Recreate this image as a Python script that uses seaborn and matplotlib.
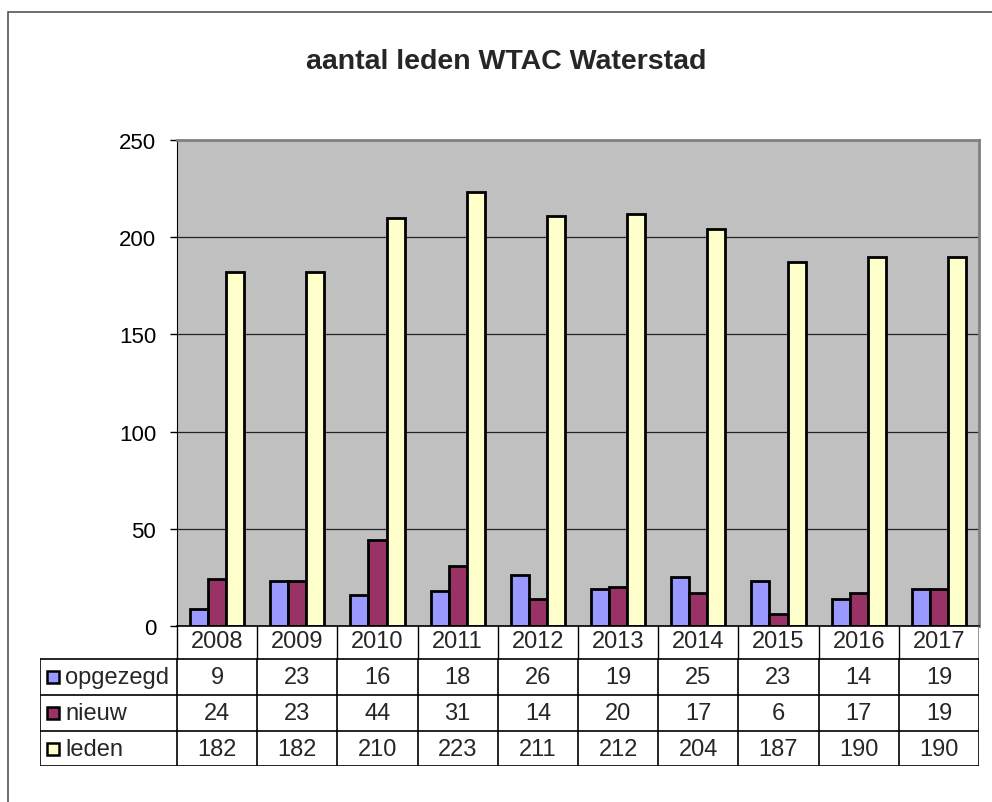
import pandas as pd
import matplotlib.pyplot as plt
import seaborn as sns
from matplotlib.patches import Rectangle

# Data
years = ["2008", "2009", "2010", "2011", "2012", "2013", "2014", "2015", "2016", "2017"]
opgezegd = [9, 23, 16, 18, 26, 19, 25, 23, 14, 19]
nieuw = [24, 23, 44, 31, 14, 20, 17, 6, 17, 19]
leden = [182, 182, 210, 223, 211, 212, 204, 187, 190, 190]
series_names = ["opgezegd", "nieuw", "leden"]
series_colors = ["#9999FF", "#993366", "#FFFFCC"]

sns.set_style("ticks")
plt.rcParams["font.family"] = ["Liberation Sans", "DejaVu Sans"]

W, H = 992, 803

# Long format table for seaborn
rows = []
for name, values in zip(series_names, [opgezegd, nieuw, leden]):
    for year, v in zip(years, values):
        rows.append({"jaar": year, "reeks": name, "aantal": v})
df = pd.DataFrame(rows)

fig = plt.figure(figsize=(W / 100, H / 100), dpi=100)

# Outer chart border (Excel style)
fig.patches.append(Rectangle((8 / W, -0.05), 1.1, 1 - 13 / H + 0.05, transform=fig.transFigure,
                             fill=False, edgecolor="#555555", linewidth=1.2))

# Plot area
left, right, top, bottom = 177, 979, 141, 627
ax = fig.add_axes([left / W, 1 - bottom / H, (right - left) / W, (bottom - top) / H])
ax.set_facecolor("#C0C0C0")
sns.barplot(data=df, x="jaar", y="aantal", hue="reeks", order=years, hue_order=series_names,
            palette=series_colors, width=0.675, edgecolor="black", linewidth=2,
            saturation=1, legend=False, ax=ax)
ax.set_xlim(-0.5, len(years) - 0.5)
ax.set_ylim(0, 250)
ax.set_yticks(range(0, 251, 50))
ax.yaxis.grid(True, color="#222222", linewidth=0.9)
ax.set_axisbelow(True)
ax.set_xticks([])
ax.set_xlabel("")
ax.set_ylabel("")
ax.tick_params(axis="y", length=5, width=1, pad=10, labelsize=16, colors="black")
for side in ["top", "right"]:
    ax.spines[side].set_color("#808080")
    ax.spines[side].set_linewidth(2)
ax.spines["left"].set_color("black")
ax.spines["bottom"].set_color("black")
ax.spines["bottom"].set_linewidth(1.2)

fig.text(506 / W, 1 - 62 / H, "aantal leden WTAC Waterstad", ha="center", va="center",
         fontsize=20.5, fontweight="bold")

# Data table below the plot area, sharing the category positions
tab_left, tab_bottom = 40, 767
unit = (right - left) / len(years)
tab = fig.add_axes([tab_left / W, 1 - tab_bottom / H, (right - tab_left) / W, (tab_bottom - bottom) / H])
x0 = -0.5 - (left - tab_left) / unit
x1 = len(years) - 0.5
tab.set_xlim(x0, x1)
tab.set_ylim(tab_bottom - bottom, 0)
tab.axis("off")
edges = [0, 33, 69, 105, 140]
fs = 17

# year header row
for i, year in enumerate(years):
    tab.text(i, (edges[0] + edges[1]) / 2 - 1, year, ha="center", va="center", fontsize=fs)
for i in range(len(years)):
    tab.plot([i - 0.5, i - 0.5], [edges[0], edges[1]], color="black", linewidth=1)
tab.plot([x1, x1], [edges[0], edges[1]], color="#808080", linewidth=1.2)

# data rows
for e in edges[1:]:
    tab.plot([x0, x1], [e, e], color="black", linewidth=1.2)
for xv in [x0] + [i - 0.5 for i in range(len(years))] + [x1]:
    tab.plot([xv, xv], [edges[1], edges[-1]], color="black", linewidth=1.2)

key = 12 / unit
for r, (name, color, values) in enumerate(zip(series_names, series_colors, [opgezegd, nieuw, leden])):
    yc = (edges[r + 1] + edges[r + 2]) / 2
    tab.add_patch(Rectangle((x0 + 7 / unit, yc - 6), key, 12, facecolor=color,
                            edgecolor="black", linewidth=1.8))
    tab.text(x0 + 25 / unit, yc, name, ha="left", va="center", fontsize=fs)
    for i, v in enumerate(values):
        tab.text(i, yc, str(v), ha="center", va="center", fontsize=fs)

fig.savefig("out.png", dpi=100)
